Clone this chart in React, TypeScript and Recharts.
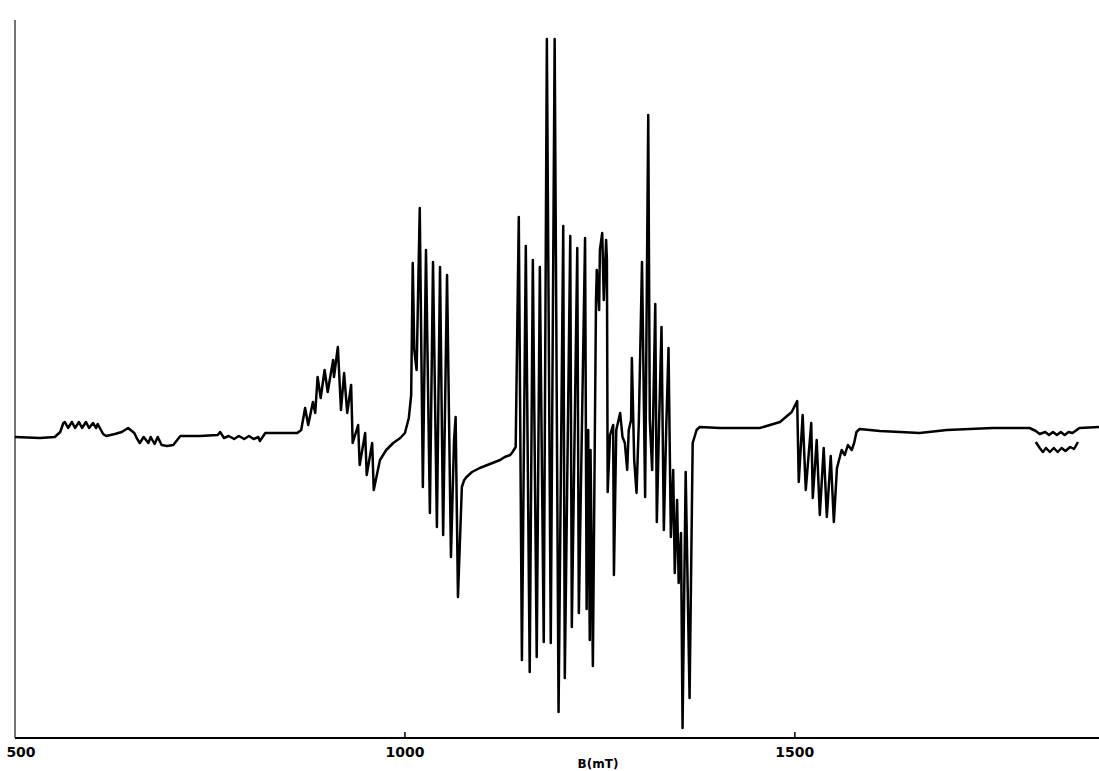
import React from "react";
import { LineChart, Line, XAxis, YAxis, Label, ReferenceLine } from "recharts";

// EPR spectrum trace: [B (mT), signal (arb. units)]
const SEG_LOW_FIELD: [number, number][] = [
  [500, 0], [532, -1], [551, 0], [558, 5], [562, 14], [564, 15], [568, 9], [573, 15], [577, 9], [582, 15],
  [586, 9], [591, 15], [595, 9], [600, 14], [604, 9], [606, 13], [613, 3], [617, 1], [628, 3], [637, 5],
  [645, 9], [653, 4], [656, -1], [660, -6], [665, 0], [671, -6], [674, 0], [679, -7], [683, 0], [688, -8],
  [695, -9], [703, -8], [708, -3], [712, 1], [737, 1], [760, 2], [763, 5], [768, -1], [774, 1], [781, -2],
  [787, 1], [794, -2], [800, 1], [806, -2], [812, 0], [814, -4], [821, 4], [840, 4], [862, 4], [867, 7],
];

const SEG_FIRST_GROUP: [number, number][] = [
  [872, 29], [876, 12], [882, 35], [885, 24], [888, 60], [892, 39], [897, 67], [901, 45], [904, 59], [908, 77],
  [909, 60], [914, 90], [918, 27], [922, 64], [926, 24], [931, 52], [933, -6], [940, 12], [942, -28], [949, 4],
  [951, -38], [958, -6], [960, -53], [964, -38], [968, -23], [976, -13], [985, -6], [994, -1], [1000, 4], [1005, 19],
  [1008, 42], [1010, 174], [1012, 87], [1015, 67], [1019, 229], [1023, -50], [1027, 187], [1032, -76], [1036, 175], [1041, -90],
  [1045, 170], [1049, -98], [1054, 162], [1059, -120], [1063, -3], [1065, 20], [1068, -160], [1073, -50], [1076, -43], [1079, -40],
  [1086, -35], [1096, -31], [1109, -27], [1122, -23], [1128, -20], [1135, -18], [1138, -15], [1142, -10],
];

const SEG_CENTRAL: [number, number][] = [
  [1146, 220], [1150, -223], [1155, 191], [1160, -235], [1164, 177], [1169, -220], [1173, 170], [1178, -205], [1182, 398], [1187, -206],
  [1192, 398], [1197, -275], [1203, 211], [1205, -241], [1212, 201], [1214, -190], [1221, 189], [1223, -176], [1231, 199], [1233, -172],
  [1235, 7], [1237, -203], [1238, -13], [1241, -229], [1245, 137], [1246, 167], [1249, 127], [1250, 187], [1253, 204], [1255, 137],
  [1258, 197], [1259, 177], [1260, -55], [1263, 2], [1267, 12], [1268, -138], [1271, 7], [1276, 24], [1279, 0], [1282, -6],
  [1285, -33], [1287, 7], [1290, 17], [1291, 79], [1294, -23], [1297, -56], [1300, 17], [1304, 175], [1308, -60], [1312, 322],
  [1314, 17], [1317, -33], [1321, 133], [1323, -85], [1326, 17], [1329, 110], [1332, -93], [1335, 7], [1338, 89], [1341, -100],
  [1344, -33], [1346, -136], [1349, -63], [1351, -146], [1354, -96], [1356, -291], [1360, -35], [1365, -261], [1369, -6], [1374, 7],
  [1378, 10],
];

const SEG_HIGH_FIELD: [number, number][] = [
  [1404, 9], [1455, 9], [1481, 15], [1496, 25], [1503, 36], [1505, -45], [1510, 22], [1514, -53], [1521, 14], [1523, -61],
  [1528, -3], [1532, -78], [1537, -11], [1541, -80], [1546, -19], [1550, -85], [1554, -31], [1560, -13], [1564, -18], [1568, -8],
  [1573, -13], [1576, -6], [1579, 5], [1583, 8], [1609, 6], [1635, 5], [1660, 4], [1695, 7], [1724, 8], [1754, 9],
  [1801, 9], [1809, 6], [1814, 3], [1821, 5], [1826, 2], [1831, 5], [1836, 2], [1841, 5], [1846, 2], [1851, 5],
  [1856, 4], [1865, 9], [1890, 10],
];

// offset expanded trace near 1830 mT
const SEG_INSET: [number, number][] = [
  [1809, -5], [1814, -11], [1818, -15], [1822, -11], [1827, -15], [1832, -11], [1837, -15], [1842, -11], [1847, -14], [1853, -10],
  [1858, -12], [1863, -5],
];

const X_TICKS = [500, 1000, 1500];
const X_LABEL = "B(mT)";

const toRows = (seg: [number, number][]) => seg.map(([b, s]) => ({ b, s }));
const mainData = [
  ...toRows(SEG_LOW_FIELD),
  ...toRows(SEG_FIRST_GROUP),
  ...toRows(SEG_CENTRAL),
  ...toRows(SEG_HIGH_FIELD),
];
const insetData = toRows(SEG_INSET);

const FONT = "'DejaVu Sans', 'Liberation Sans', sans-serif";

const Tick = (props: any) => {
  const { x, y, payload } = props;
  const v = payload.value;
  return (
    <g>
      {v !== 500 && <line x1={x} x2={x} y1={y} y2={y - 6} stroke="#000" strokeWidth={1.5} />}
      <text
        x={x + (v === 500 ? 6 : 0)}
        y={y + 19}
        textAnchor="middle"
        fontFamily={FONT}
        fontWeight="bold"
        fontSize={14}
        fill="#000"
      >
        {v}
      </text>
    </g>
  );
};

export default function App() {
  return (
    <div style={{ position: "absolute", left: 0, top: 0, width: 1099, height: 771, background: "#fff" }}>
      <LineChart width={1099} height={771} margin={{ top: 20, right: 0, left: 15, bottom: 0 }}>
        <XAxis
          dataKey="b"
          type="number"
          domain={[500, 1890]}
          ticks={X_TICKS}
          allowDataOverflow
          height={33}
          tickSize={0}
          tickMargin={0}
          tickLine={false}
          axisLine={{ stroke: "#000", strokeWidth: 2 }}
          tick={<Tick />}
          interval={0}
        >
          <Label
            value={X_LABEL}
            position="insideBottom"
            offset={3}
            dx={41}
            style={{ fontFamily: FONT, fontWeight: "bold", fontSize: 12, fill: "#000" }}
          />
        </XAxis>
        <YAxis
          type="number"
          domain={[-301, 417]}
          allowDataOverflow
          width={0}
          tick={false}
          tickLine={false}
          axisLine={false}
        />
        <ReferenceLine x={500} stroke="#444" strokeWidth={1.5} ifOverflow="visible" />
        <Line
          data={mainData}
          dataKey="s"
          type="linear"
          stroke="#000"
          strokeWidth={2.5}
          dot={false}
          isAnimationActive={false}
          strokeLinejoin="round"
        />
        <Line
          data={insetData}
          dataKey="s"
          type="linear"
          stroke="#000"
          strokeWidth={2.5}
          dot={false}
          isAnimationActive={false}
          strokeLinejoin="round"
        />
      </LineChart>
    </div>
  );
}
